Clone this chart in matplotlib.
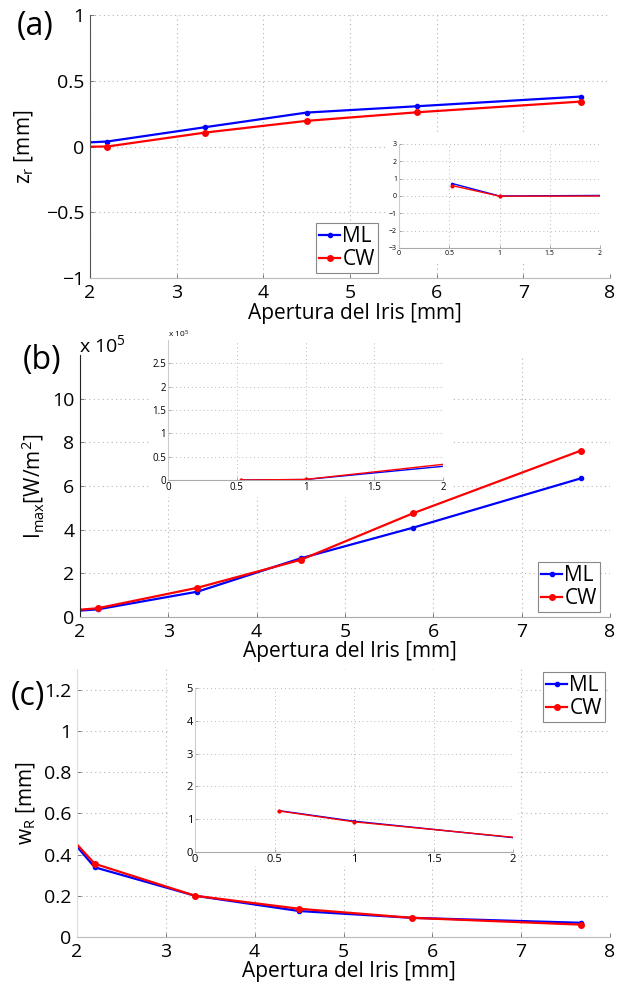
import numpy as np
import matplotlib.pyplot as plt
from matplotlib.patches import Rectangle

plt.rcParams['font.family'] = ['Open Sans', 'DejaVu Sans']
plt.rcParams['mathtext.fontset'] = 'custom'
plt.rcParams['mathtext.rm'] = 'Open Sans'
plt.rcParams['mathtext.it'] = 'Open Sans:italic'

W, H = 622, 989

# iris aperture (mm); the first two points only show up in the insets
apertura = [0.53, 1.0, 2.2, 3.33, 4.5, 5.77, 7.67]

# (a) z_r [mm]
zr_ml = [0.72, 0.0, 0.038, 0.147, 0.258, 0.306, 0.38]
zr_cw = [0.60, -0.01, 0.0, 0.106, 0.195, 0.26, 0.342]

# (b) I_max [W/m^2]
imax_ml = [0.0, 0.01e5, 0.35e5, 1.16e5, 2.69e5, 4.09e5, 6.35e5]
imax_cw = [0.0, 0.012e5, 0.40e5, 1.34e5, 2.62e5, 4.75e5, 7.62e5]

# (c) w_R [mm]
wr_ml = [1.26, 0.94, 0.338, 0.20, 0.126, 0.093, 0.069]
wr_cw = [1.25, 0.92, 0.355, 0.20, 0.137, 0.093, 0.060]

main_xticks = [2, 3, 4, 5, 6, 7, 8]
inset_xticks = [0, 0.5, 1, 1.5, 2]
inset_xlabels = ['0', '0.5', '1', '1.5', '2']

TICK_FS = 14
LABEL_FS = 15


def px_rect(l, r, t, b):
    return [l / W, 1 - b / H, (r - l) / W, (b - t) / H]


def style_main(ax, left_col, bottom_col):
    ax.spines['top'].set_visible(False)
    ax.spines['right'].set_visible(False)
    ax.spines['left'].set_color(left_col)
    ax.spines['bottom'].set_color(bottom_col)
    ax.grid(True, ls=(0, (1, 3)), color='#b4b4b4', lw=0.8)
    ax.tick_params(direction='in', length=3, width=0.6, color='#666666',
                   labelsize=TICK_FS)
    ax.tick_params(axis='x', pad=4)
    ax.tick_params(axis='y', pad=4)
    ax.set_xlim(2, 8)
    ax.set_xticks(main_xticks)
    ax.set_xlabel('Apertura del Iris [mm]', fontsize=LABEL_FS, va='center')


def plot_pair(ax, x, ml, cw, lw, ms_ml, ms_cw):
    ax.plot(x, ml, color='#0000ff', lw=lw, marker='.', ms=ms_ml, label='ML')
    ax.plot(x, cw, color='#ff0000', lw=lw, marker='o', ms=ms_cw, label='CW')


def add_legend(fig, ax, l, t):
    leg = ax.legend(loc='upper left', bbox_to_anchor=(l / W, 1 - t / H),
                    bbox_transform=fig.transFigure, fontsize=15,
                    fancybox=False, framealpha=1, edgecolor='#888888',
                    borderpad=0.15, labelspacing=0.1, handlelength=1.0,
                    handletextpad=0.12, borderaxespad=0)
    leg.get_frame().set_linewidth(0.8)


def add_inset(fig, rect, cover, x, ml, cw, ylim, yticks, ylabels, fs):
    # white backdrop hiding the main grid behind the inset
    l, r, t, b = cover
    fig.patches.append(Rectangle((l / W, 1 - b / H), (r - l) / W, (b - t) / H,
                                 transform=fig.transFigure, facecolor='white',
                                 edgecolor='none', zorder=1.5))
    ax = fig.add_axes(rect)
    ax.set_zorder(2)
    plot_pair(ax, x, ml, cw, 1.0, 3, 2)
    ax.set_xlim(0, 2)
    ax.set_ylim(*ylim)
    ax.set_xticks(inset_xticks, inset_xlabels)
    ax.set_yticks(yticks, ylabels)
    ax.spines['top'].set_visible(False)
    ax.spines['right'].set_visible(False)
    ax.spines['left'].set_color('#cccccc')
    ax.spines['bottom'].set_color('#aaaaaa')
    ax.grid(True, ls=(0, (1, 3)), color='#b8b8b8', lw=0.7)
    ax.tick_params(direction='in', length=2, width=0.5, color='#888888',
                   labelsize=fs, pad=1.5)
    return ax


fig = plt.figure(figsize=(W / 100, H / 100), dpi=100)

# ---------------- (a) ----------------
ax_a = fig.add_axes(px_rect(90, 610, 15, 278))
plot_pair(ax_a, apertura, zr_ml, zr_cw, 1.6, 6, 4)
style_main(ax_a, '#555555', '#bbbbbb')
ax_a.set_ylim(-1, 1)
ax_a.set_yticks([-1, -0.5, 0, 0.5, 1], ['\u22121', '\u22120.5', '0', '0.5', '1'])
ax_a.set_ylabel(r'z$_{\mathrm{r}}$ [mm]', fontsize=LABEL_FS, va='center')
ax_a.yaxis.set_label_coords((24 - 90) / 520, 0.5)
ax_a.xaxis.set_label_coords(0.51, (278 - 314) / 263)
add_legend(fig, ax_a, 316, 223)
add_inset(fig, px_rect(399, 600, 144, 248), (385, 610, 135, 262),
          apertura, zr_ml, zr_cw, (-3, 3), [-3, -2, -1, 0, 1, 2, 3],
          ['\u22123', '\u22122', '\u22121', '0', '1', '2', '3'], 5)
fig.text(35 / W, 1 - 27 / H, '(a)', fontsize=23, ha='center', va='center')

# ---------------- (b) ----------------
ax_b = fig.add_axes(px_rect(80, 610, 355, 617))
plot_pair(ax_b, apertura, np.array(imax_ml) / 1e5, np.array(imax_cw) / 1e5,
          1.6, 6, 4)
style_main(ax_b, '#222222', '#aaaaaa')
ax_b.set_ylim(0, 12)
ax_b.set_yticks([0, 2, 4, 6, 8, 10])
ax_b.set_ylabel(r'I$_{\mathrm{max}}$[W/m$^{2}$]', fontsize=LABEL_FS, va='center')
ax_b.yaxis.set_label_coords((33 - 80) / 530, 0.5)
ax_b.xaxis.set_label_coords(0.51, (617 - 652) / 262)
add_legend(fig, ax_b, 538, 562)
add_inset(fig, px_rect(168, 443, 340, 480), (150, 452, 332, 497),
          apertura, np.array(imax_ml) / 1e5, np.array(imax_cw) / 1e5,
          (0, 3), [0, 0.5, 1, 1.5, 2, 2.5],
          ['0', '0.5', '1', '1.5', '2', '2.5'], 7)
fig.text(79 / W, 1 - 345 / H, r'x 10$^{5}$', fontsize=TICK_FS, ha='left', va='center')
fig.text(168 / W, 1 - 334 / H, r'x 10$^{5}$', fontsize=6, ha='left', va='center')
fig.text(42 / W, 1 - 360 / H, '(b)', fontsize=23, ha='center', va='center')

# ---------------- (c) ----------------
ax_c = fig.add_axes(px_rect(77, 610, 669, 937))
plot_pair(ax_c, apertura, wr_ml, wr_cw, 1.6, 6, 4)
style_main(ax_c, '#dddddd', '#bbbbbb')
ax_c.set_ylim(0, 1.3)
ax_c.set_yticks([0, 0.2, 0.4, 0.6, 0.8, 1, 1.2],
                ['0', '0.2', '0.4', '0.6', '0.8', '1', '1.2'])
ax_c.set_ylabel(r'w$_{\mathrm{R}}$ [mm]', fontsize=LABEL_FS, va='center')
ax_c.yaxis.set_label_coords((26 - 77) / 533, 0.5)
ax_c.xaxis.set_label_coords(0.51, (937 - 972) / 268)
add_legend(fig, ax_c, 543, 672)
add_inset(fig, px_rect(195, 513, 688, 852), (168, 518, 670, 866),
          apertura, wr_ml, wr_cw, (0, 5), [0, 1, 2, 3, 4, 5],
          ['0', '1', '2', '3', '4', '5'], 8)
fig.text(28 / W, 1 - 697 / H, '(c)', fontsize=23, ha='center', va='center')

fig.savefig('out.png', dpi=100)
